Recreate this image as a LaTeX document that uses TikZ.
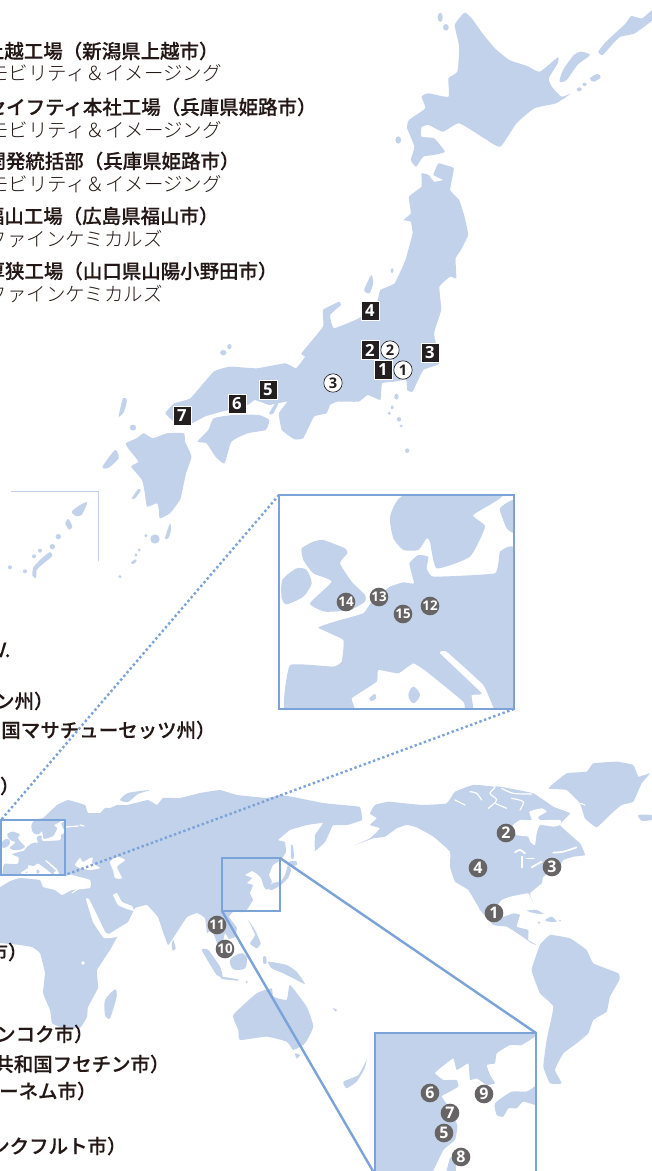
\documentclass[tikz,border=0pt]{standalone}
\usepackage{fontspec}
\newfontfamily\jpmed[FakeBold=0.3]{Noto Sans CJK JP Medium}
\newfontfamily\jplight{Noto Sans CJK JP Light}
\newfontfamily\numfont{Open Sans}
\definecolor{landblue}{HTML}{C3D2EB}
\definecolor{framecol}{HTML}{7BA3D8}
\definecolor{markgrey}{HTML}{666464}
\definecolor{markblack}{HTML}{231F20}
\definecolor{textdark}{HTML}{231815}
\tikzset{every picture/.style={line width=0.75pt}}
\tikzset{
  land/.style={fill=landblue,draw=none},
  sea/.style={fill=white,draw=none},
  sealine/.style={draw=white,line width=0.9pt,line cap=round,line join=round},
  framebox/.style={draw=framecol,line width=2.2pt,inner sep=0pt,outer sep=0pt,anchor=north west},
  zoomline/.style={draw=framecol,line width=1.8pt},
  dotline/.style={draw=framecol,line width=1.8pt,dash pattern=on 1.8pt off 1.9pt},
  mainlabel/.style={anchor=east,inner sep=0pt,font=\jpmed\fontsize{14.6}{16}\selectfont,text=textdark},
  sublabel/.style={anchor=east,inner sep=0pt,font=\jplight\fontsize{14.6}{16}\selectfont,text=textdark},
  blacksq/.style={rectangle,fill=markblack,draw=white,line width=0.4pt,minimum width=13.5pt,minimum height=14.25pt,inner sep=0pt,text=white,font=\numfont\bfseries\fontsize{12.5}{12.5}\selectfont},
  opencirc/.style={circle,fill=white,draw=markblack,line width=0.5pt,minimum size=13.8pt,inner sep=0pt,text=markblack,font=\numfont\bfseries\fontsize{11}{11}\selectfont},
  greycirc/.style={circle,fill=markgrey,minimum size=14pt,inner sep=0pt,text=white,font=\numfont\bfseries\fontsize{12}{12}\selectfont},
  greycircb/.style={greycirc,font=\numfont\bfseries\fontsize{10}{10}\selectfont},
}
% Europe coast, in the coordinates of the large box
\newcommand{\europecoast}{
  \fill[land] plot [smooth cycle,tension=.3] coordinates {(405,30) (360,95) (370,160) (400,195) (445,195) (470,160) (480,170) (500,250) (600,215) (645,125) (610,90) (695,30)};
  \fill[land] plot [smooth cycle,tension=.3] coordinates {(735,45) (690,70) (710,130) (735,142)};
  \fill[land] plot [smooth cycle,tension=.2] coordinates {(735,195) (690,200) (675,265) (490,275) (470,250) (475,215) (445,210) (418,235) (432,295) (400,292) (360,305) (305,350) (280,385) (200,408) (145,428) (220,465) (215,530) (190,545) (60,540) (45,675) (250,675) (245,640) (320,590) (325,555) (385,565) (430,535) (470,560) (580,650) (585,675) (610,675) (605,630) (635,625) (510,505) (530,500) (640,600) (675,675) (735,675)};
  \fill[land] plot [smooth cycle,tension=.3] coordinates {(95,190) (130,170) (160,165) (225,190) (232,205) (210,235) (245,290) (285,330) (285,350) (240,375) (165,380) (120,355) (185,290) (130,265) (100,225)};
  \fill[land] plot [smooth cycle,tension=.4] coordinates {(37,285) (80,250) (110,255) (125,295) (100,335) (50,358) (35,340)};
  \fill[land] plot [smooth cycle,tension=.6] coordinates {(415,630) (430,605) (450,630) (430,655)};
  \fill[land] plot [smooth cycle,tension=.6] coordinates {(298,640) (315,627) (318,640) (305,648)};
}
\begin{document}
\begin{tikzpicture}[x=0.75pt,y=0.75pt,yscale=-1,xscale=1]
\clip (0,0) rectangle (652,1171);

%Shape: Japan
\begin{scope}[shift={(90,0)},xscale=0.3584,yscale=0.3333]
\fill[land] plot [smooth cycle,tension=.3] coordinates {(1045,38) (1065,55) (1095,100) (1130,145) (1170,180) (1220,198) (1255,215) (1305,172) (1305,190) (1280,235) (1290,262) (1315,290) (1340,282) (1300,310) (1240,325) (1190,370) (1145,440) (1100,415) (1030,370) (985,395) (945,375) (925,382) (925,410) (960,415) (990,455) (960,465) (930,470) (910,500) (895,480) (905,440) (885,385) (890,360) (935,325) (925,290) (945,280) (1000,290) (1000,235) (1025,215) (1030,140) (1018,75)};
\fill[land] plot [smooth cycle,tension=.3] coordinates {(1418,155) (1440,125) (1470,95) (1495,70) (1510,48) (1540,55) (1575,25) (1575,55) (1520,100) (1480,110) (1460,130) (1430,165)};
\fill[land] plot [smooth cycle,tension=.4] coordinates {(1310,245) (1320,210) (1350,165) (1370,155) (1395,165) (1360,195) (1330,240)};
\fill[land] plot [smooth cycle,tension=.6] coordinates {(1395,235) (1415,222) (1425,232) (1405,245)};
\fill[land] (1365,268) circle [x radius=7,y radius=6];
\fill[land] (1380,253) circle [x radius=6,y radius=5];
\fill[land] (977,52) circle [x radius=7,y radius=14];
\fill[land] (993,82) circle [x radius=8,y radius=10];
\fill[land] (860,420) circle [x radius=8,y radius=11];
% Honshu
\fill[land] plot [smooth cycle,tension=.2] coordinates {(925,520) (945,525) (960,545) (985,540) (958,525) (972,490) (990,495) (1015,505) (1005,570) (1030,600) (1045,650) (1055,705) (1035,750) (1020,775) (1022,835) (1005,830) (975,860) (980,930) (960,1000) (975,1090) (930,1110) (900,1175) (885,1170) (882,1140) (850,1145) (815,1150) (810,1200) (775,1185) (750,1205) (690,1205) (670,1215) (660,1240) (625,1250) (595,1315) (570,1318) (535,1290) (527,1240) (550,1205) (500,1215) (460,1200) (440,1215) (350,1240) (320,1250) (275,1275) (240,1270) (210,1240) (235,1210) (280,1195) (345,1115) (390,1100) (465,1105) (545,1090) (575,1105) (600,1070) (590,1060) (650,980) (650,930) (695,905) (700,915) (670,945) (680,985) (750,955) (800,910) (810,870) (850,850) (880,780) (900,700) (895,665) (875,660) (895,640) (890,590) (925,560)};
% Shikoku, Kyushu
\fill[land] plot [smooth cycle,tension=.3] coordinates {(300,1325) (330,1290) (345,1255) (400,1245) (470,1245) (500,1260) (490,1290) (440,1300) (395,1325) (375,1390) (350,1370) (325,1330)};
\fill[land] plot [smooth cycle,tension=.3] coordinates {(100,1330) (130,1315) (150,1300) (175,1315) (215,1300) (262,1300) (265,1325) (283,1370) (268,1420) (258,1470) (251,1500) (223,1540) (195,1555) (192,1530) (187,1510) (159,1520) (153,1480) (145,1440) (115,1400) (135,1385) (110,1350)};
\fill[land] plot [smooth cycle,tension=.4] coordinates {(765,870) (785,825) (790,850) (780,880)};
\fill[land] plot [smooth cycle,tension=.4] coordinates {(80,1250) (92,1195) (103,1200) (95,1235)};
\fill[land] plot [smooth cycle,tension=.4] coordinates {(500,1240) (520,1205) (525,1212) (510,1242)};
\fill[land] plot [smooth cycle,tension=.4] coordinates {(35,1400) (70,1350) (80,1375) (50,1405)};
\fill[land] (372,1058) circle [x radius=9,y radius=8];
\fill[land] (389,1040) circle [x radius=6,y radius=8];
\fill[land] (120,1283) circle [x radius=9,y radius=9];
\fill[land] (843,812) circle [x radius=4,y radius=7];
\fill[land] (855,1190) circle [x radius=6,y radius=9];
\fill[land] (843,1222) circle [x radius=4,y radius=6];
\fill[land] (835,1240) circle [x radius=5,y radius=5];
\fill[land] (862,1258) circle [x radius=6,y radius=7];
\fill[land] (868,1278) circle [x radius=5,y radius=4];
\fill[land] (885,1352) circle [x radius=6,y radius=7];
\end{scope}
%Shape: Southern islands
\begin{scope}[shift={(0,480)},scale=0.3333]
\fill[land] plot [smooth cycle,tension=.4] coordinates {(495,175) (510,130) (513,150) (505,175)};
\fill[land] (465,177) circle [radius=14];
\fill[land] (438,167) circle [radius=5];
\fill[land] plot [smooth cycle,tension=.4] coordinates {(395,55) (415,27) (422,32) (405,55)};
\fill[land] (418,210) circle [radius=5];
\fill[land] (408,225) circle [radius=5];
\fill[land] plot [smooth cycle,tension=.5] coordinates {(393,248) (405,238) (410,243) (400,252)};
\fill[land] (360,290) circle [radius=5];
\fill[land] plot [smooth cycle,tension=.4] coordinates {(215,95) (240,75) (262,67) (245,105) (228,108)};
\fill[land] plot [smooth cycle,tension=.4] coordinates {(196,130) (205,117) (217,140) (207,149)};
\fill[land] (175,170) circle [radius=8];
\fill[land] (157,200) circle [radius=8];
\fill[land] (120,212) circle [radius=6];
\fill[land] (102,229) circle [radius=6];
\fill[land] plot [smooth cycle,tension=.3] coordinates {(100,262) (125,235) (150,216) (157,228) (125,255) (110,270) (108,295) (97,287)};
\fill[land] (30,262) circle [radius=6];
\fill[land] (75,274) circle [radius=6];
\end{scope}
%Straight Lines
\draw [draw=landblue,line width=.75pt] (11,491) -- (98.5,491) -- (98.5,561);

%Shape: Eurasia and Africa
\fill[land] plot [smooth cycle,tension=.15] coordinates {(30,820) (43,818) (57,805) (68,800) (85,805) (88,813) (100,813) (105,808) (110,808) (117,805) (127,805) (148,800) (157,805) (163,798) (180,798) (200,793) (220,790) (237,795) (267,798) (280,795) (293,797) (323,803) (343,805) (360,807) (362,820) (347,825) (333,825) (332,827) (325,842) (315,851) (315,835) (323,823) (307,825) (290,830) (278,840) (285,842) (286,852) (281,860) (273,865) (269,875) (272,882) (267,890) (264,887) (261,878) (257,874) (252,871) (245,875) (252,878) (247,883) (253,885) (250,893) (253,900) (248,908) (245,912) (233,912) (229,917) (237,928) (235,937) (229,939) (225,933) (223,943) (228,957) (223,957) (217,943) (212,930) (207,933) (205,918) (197,913) (187,917) (177,932) (168,945) (160,923) (158,917) (147,905) (135,908) (128,922) (115,930) (105,937) (118,935) (110,950) (97,970) (98,988) (88,1007) (87,1017) (80,1028) (62,1028) (52,1023) (50,1010) (43,993) (45,973) (40,953) (32,947) (20,945) (0,943) (-8,943) (-8,825)};
% inner seas
\fill[sea] plot [smooth cycle,tension=.2] coordinates {(-4,876) (66,876) (68,874) (90,880) (90,888) (72,890) (62,895) (55,890) (43,887) (40,880) (20,878) (10,881) (0,887) (-4,887)};
\fill[sea] plot [smooth cycle,tension=.4] coordinates {(75,865) (80,858) (83,862) (90,858) (93,858) (92,863) (100,868) (90,870) (80,868)};
\fill[sea] plot [smooth cycle,tension=.4] coordinates {(110,862) (117,857) (125,860) (117,867) (122,878) (115,878) (113,870)};
\fill[sea] plot [smooth cycle,tension=.2] coordinates {(86,899) (89,899) (97,915) (106,933) (118,934) (117,937) (104,938) (93,922)};
\fill[sea] plot [smooth cycle,tension=.2] coordinates {(113,895) (117,893) (122,902) (132,906) (134,911) (127,909) (118,905)};
\draw [sealine] (66,827) -- (78,826);
\draw [sealine] (80,825) -- (84,826);
\draw [sealine] (72,893) -- (78,889);
\fill[sea] (83,963) circle [radius=1.8];
% islands
\fill[land] plot [smooth cycle,tension=.4] coordinates {(120,800) (128,793) (150,790) (138,794) (128,802)};
\begin{scope}[shift={(0,780)},scale=0.3333]
\fill[land] plot [smooth cycle,tension=.4] coordinates {(345,628) (350,650) (330,715) (315,705) (315,660)};
\fill[land] plot [smooth cycle,tension=.5] coordinates {(520,480) (527,505) (518,512) (515,495)};
\fill[land] plot [smooth cycle,tension=.3] coordinates {(605,510) (625,510) (660,560) (668,590) (650,585)};
\fill[land] plot [smooth cycle,tension=.3] coordinates {(665,590) (715,598) (712,602) (665,597)};
\fill[land] plot [smooth cycle,tension=.5] coordinates {(690,540) (720,520) (740,530) (735,565) (700,568)};
\fill[land] plot [smooth cycle,tension=.3] coordinates {(745,420) (765,450) (782,490) (770,505) (750,490) (765,465)};
\fill[land] plot [smooth cycle,tension=.4] coordinates {(790,530) (798,530) (800,550) (790,550)};
\fill[land] plot [smooth cycle,tension=.3] coordinates {(805,545) (860,555) (890,575) (915,612) (880,595) (850,580) (815,565)};
\fill[land] plot [smooth cycle,tension=.25] coordinates {(700,705) (770,640) (815,625) (820,650) (860,660) (870,615) (920,680) (940,740) (915,790) (880,810) (860,785) (800,770) (720,780) (715,750)};
\fill[land] plot [smooth cycle,tension=.5] coordinates {(885,820) (900,825) (890,835)};
\fill[land] plot [smooth cycle,tension=.5] coordinates {(998,685) (1010,688) (1008,695)};
\fill[land] plot [smooth cycle,tension=.3] coordinates {(1030,905) (1075,885) (1100,840) (1093,868) (1070,905) (1040,925)};
\fill[land] (740,606) circle [radius=4];
\end{scope}

%Shape: Americas
\begin{scope}[shift={(340,750)},scale=0.3333]
\fill[land] plot [smooth cycle,tension=.2] coordinates {(90,190) (105,165) (145,155) (195,160) (250,165) (320,160) (345,125) (400,105) (480,110) (580,130) (640,170) (690,190) (660,225) (720,280) (735,315) (700,320) (670,330) (660,345) (610,380) (605,400) (570,430) (580,460) (565,430) (510,440) (485,450) (470,470) (490,500) (520,490) (540,495) (530,530) (565,540) (565,570) (590,585) (575,580) (540,555) (500,530) (460,525) (420,480) (385,420) (345,395) (330,350) (330,305) (280,260) (230,232) (200,225) (170,235) (135,260) (100,265) (45,285) (90,265) (120,235) (90,225) (110,205)};
\fill[land] plot [smooth cycle,tension=.2] coordinates {(625,115) (680,70) (740,65) (760,40) (830,35) (880,45) (895,80) (930,70) (905,100) (880,155) (845,165) (815,190) (770,232) (735,205) (720,160) (680,120)};
\fill[land] plot [smooth cycle,tension=.4] coordinates {(895,195) (935,195) (935,210) (905,212)};
\fill[land] plot [smooth cycle,tension=.2] coordinates {(575,660) (600,585) (630,555) (690,565) (740,600) (760,640) (835,670) (838,690) (810,740) (800,785) (760,810) (745,850) (710,880) (670,910) (645,960) (665,1000) (630,1000) (610,950) (620,870) (640,770) (600,730)};
\fill[land] plot [smooth cycle,tension=.4] coordinates {(560,482) (590,480) (610,492) (585,490)};
\fill[land] plot [smooth cycle,tension=.4] coordinates {(615,510) (635,500) (650,515) (625,515)};
\fill[land] (660,512) circle [radius=3];
\fill[land] (597,518) circle [radius=4];
% Hudson bay and lakes
\fill[sea] plot [smooth cycle,tension=.3] coordinates {(515,230) (540,210) (575,210) (568,185) (605,175) (620,185) (595,200) (600,210) (660,210) (660,225) (640,230) (600,225) (590,250) (585,285) (570,275) (565,260) (530,255)};
\draw [sealine] plot [smooth,tension=.5] coordinates {(390,125) (410,130) (425,150)};
\draw [sealine] plot [smooth,tension=.5] coordinates {(435,105) (465,110) (450,130) (470,150) (445,175)};
\draw [sealine] plot [smooth,tension=.5] coordinates {(485,115) (520,130) (575,132)};
\draw [sealine] plot [smooth,tension=.5] coordinates {(515,145) (550,155) (540,180)};
\draw [sealine] plot [smooth,tension=.5] coordinates {(465,160) (500,175)};
\draw [sealine] (345,150) -- (375,165);
\draw [sealine,line width=1.3pt] plot [smooth,tension=.5] coordinates {(525,307) (540,300) (555,310)};
\draw [sealine,line width=1.3pt] (545,320) -- (545,352);
\draw [sealine] (560,325) -- (582,325);
\draw [sealine,line width=1.3pt] (575,352) -- (605,335);
\draw [sealine,line width=1.3pt] plot [smooth,tension=.5] coordinates {(640,308) (670,305) (710,292)};
\draw [sealine] (388,430) -- (415,475);
\draw [sealine] (722,160) -- (735,165);
\end{scope}

% Text Node
\node (lblA) at (219,51) [mainlabel] {上越工場（新潟県上越市）};
\node (lblAs) at (222,73) [sublabel] {モビリティ＆イメージング};
\node (lblB) at (317,107) [mainlabel] {セイフティ本社工場（兵庫県姫路市）};
\node (lblBs) at (222,130) [sublabel] {モビリティ＆イメージング};
\node (lblC) at (240,161) [mainlabel] {開発統括部（兵庫県姫路市）};
\node (lblCs) at (222,184) [sublabel] {モビリティ＆イメージング};
\node (lblD) at (219,216) [mainlabel] {福山工場（広島県福山市）};
\node (lblDs) at (163,239) [sublabel] {ファインケミカルズ};
\node (lblE) at (278,271) [mainlabel] {厚狭工場（山口県山陽小野田市）};
\node (lblEs) at (163,294) [sublabel] {ファインケミカルズ};
\node (lblF) at (11,650) [mainlabel] {V.};
\node (lblG) at (54,701) [mainlabel] {ン州）};
\node (lblH) at (216,730) [mainlabel] {国マサチューセッツ州）};
\node (lblI) at (20,786) [mainlabel] {）};
\node (lblJ) at (28,952) [mainlabel] {市）};
\node (lblK) at (94,1034) [mainlabel] {ンコク市）};
\node (lblL) at (170,1064) [mainlabel] {共和国フセチン市）};
\node (lblM) at (97,1091) [mainlabel] {ーネム市）};
\node (lblN) at (127,1146) [mainlabel] {ンクフルト市）};

%Shape: Inset boxes
\node (boxEuS) at (1,820) [framebox,fill=white,minimum width=48pt,minimum height=41.25pt] {};
\begin{scope}
\clip (1,820) rectangle (65,875);
\begin{scope}[shift={(-1.3,817.4)},xscale=0.0908,yscale=0.086]
\europecoast
\end{scope}
\end{scope}
\node (boxEuS) at (1,820) [framebox,minimum width=48pt,minimum height=41.25pt] {};
\node (boxEu) at (279,495) [framebox,fill=white,minimum width=176.25pt,minimum height=160.5pt] {};
\begin{scope}
\clip (279,495) rectangle (514,709);
\begin{scope}[shift={(270,485)},scale=0.3333]
\europecoast
\end{scope}
\end{scope}
\node (boxEu) at (279,495) [framebox,minimum width=176.25pt,minimum height=160.5pt] {};
\node (boxAs) at (375,1033) [framebox,fill=white,minimum width=120.75pt,minimum height=135pt] {};
\begin{scope}
\clip (375,1033) rectangle (536,1215);
\begin{scope}[shift={(340,750)},scale=0.3333]
\fill[land] plot [smooth cycle,tension=.2] coordinates {(95,840) (595,840) (545,885) (510,885) (470,910) (465,940) (440,945) (450,975) (465,1000) (440,1005) (410,985) (390,990) (385,940) (350,960) (340,925) (300,955) (285,970) (310,990) (350,990) (355,1010) (320,1030) (305,1040) (340,1090) (352,1130) (345,1170) (310,1200) (260,1290) (95,1290)};
\fill[land] plot [smooth cycle,tension=.3] coordinates {(465,1060) (515,1025) (560,1025) (595,1005) (595,1065) (550,1055) (530,1075) (505,1075) (490,1100) (470,1095)};
\fill[land] plot [smooth cycle,tension=.3] coordinates {(315,1290) (330,1225) (348,1225) (345,1290)};
\end{scope}
\end{scope}
\node (boxAs) at (375,1033) [framebox,minimum width=120.75pt,minimum height=135pt] {};
\node (boxAsS) at (222,858) [framebox,minimum width=43.5pt,minimum height=39.75pt] {};
% small japan in the box
\fill[land] plot [smooth cycle,tension=.3] coordinates {(267,888) (273,883) (281,881) (285,875) (288,865) (291,870) (288,878) (281,885) (272,890)};
\fill[land] plot [smooth cycle,tension=.4] coordinates {(288,862) (296,861) (297,865) (290,866)};
\fill[land] plot [smooth cycle,tension=.4] coordinates {(291,845) (293,846) (294,858) (291,858)};
\node (boxAsS) at (222,858) [framebox,minimum width=43.5pt,minimum height=39.75pt] {};

%Straight Lines
\coordinate (cutAs) at (373.5,1172);
\draw [zoomline] (boxAsS.north east) -- (boxAs.north east);
\draw [zoomline] (boxAsS.south west) -- (cutAs);
\draw [dotline] (boxEu.north west) -- (boxEuS.north west);
\draw [dotline] (boxEu.south east) -- (boxEuS.south east);

%Shape: Japan markers
\node (sqA) at (383,370) [blacksq] {1};
\node (sqB) at (370,350) [blacksq] {2};
\node (sqC) at (430,353) [blacksq] {3};
\node (sqD) at (370,311) [blacksq] {4};
\node (sqE) at (268,390) [blacksq] {5};
\node (sqF) at (237,404) [blacksq] {6};
\node (sqG) at (182,416) [blacksq] {7};
\node (ocA) at (403,370) [opencirc] {1};
\node (ocB) at (390,350) [opencirc] {2};
\node (ocC) at (333,383) [opencirc] {3};

%Shape: World markers
\node (gcA) at (494,913) [greycirc] {1};
\node (gcB) at (506,833) [greycirc] {2};
\node (gcC) at (552,867) [greycirc] {3};
\node (gcD) at (478,868) [greycirc] {4};
\node (gcE) at (444,1133) [greycirc] {5};
\node (gcF) at (430,1093) [greycirc] {6};
\node (gcG) at (450,1113) [greycirc] {7};
\node (gcH) at (461,1157) [greycirc] {8};
\node (gcI) at (484,1094) [greycirc] {9};
\node (gcJ) at (225,949) [greycircb] {10};
\node (gcK) at (217,925) [greycircb] {11};
\node (gcL) at (430,606) [greycircb] {12};
\node (gcM) at (379,597) [greycircb] {13};
\node (gcN) at (346,602) [greycircb] {14};
\node (gcO) at (403,614) [greycircb] {15};
\end{tikzpicture}
\end{document}
